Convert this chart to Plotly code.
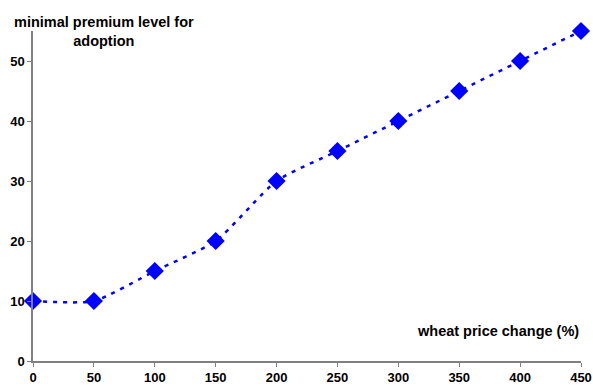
import plotly.graph_objects as go

wheat_price_change = [0, 50, 100, 150, 200, 250, 300, 350, 400, 450]
min_premium = [10, 10, 15, 20, 30, 35, 40, 45, 50, 55]
x_ticks = [0, 50, 100, 150, 200, 250, 300, 350, 400, 450]
y_ticks = [0, 10, 20, 30, 40, 50]

fig = go.Figure()
fig.add_trace(go.Scatter(
    x=wheat_price_change, y=min_premium,
    mode="lines+markers",
    line=dict(color="#0000FF", width=2.5, dash="4px,6px", shape="spline", smoothing=0.6),
    marker=dict(symbol="diamond", size=14, color="#0000FF"),
    cliponaxis=False,
    showlegend=False,
))

FONT = "Liberation Sans, Arial, sans-serif"
axis_font = dict(family=FONT, size=13, color="black", weight="bold")
common = dict(showgrid=False, zeroline=False, automargin=False,
              showline=True, linecolor="#808080", linewidth=1.5,
              ticks="outside", ticklen=4, tickcolor="#808080", tickwidth=1,
              tickfont=axis_font)
fig.update_layout(
    width=593, height=390,
    margin=dict(l=33, r=12, t=31, b=29),
    paper_bgcolor="white", plot_bgcolor="white",
    xaxis=dict(range=[0, 450], tickvals=x_ticks, **common),
    yaxis=dict(range=[0, 55], tickvals=y_ticks, **common),
    annotations=[
        dict(text="<b>minimal premium level for<br>adoption</b>", xref="paper", yref="paper",
             x=(104 - 33) / (581 - 33), y=1, yshift=0, showarrow=False, align="center",
             xanchor="center", yanchor="middle",
             font=dict(family=FONT, size=14.5, color="black")),
        dict(text="<b>wheat price change (%)</b>", xref="x", yref="y",
             x=450, y=5, showarrow=False, xanchor="right", yanchor="middle",
             font=dict(family=FONT, size=14.5, color="black")),
    ],
)
fig.write_html("out.html", config={"displayModeBar": False},
               post_script="document.body.style.margin='0';document.body.style.padding='0';")
